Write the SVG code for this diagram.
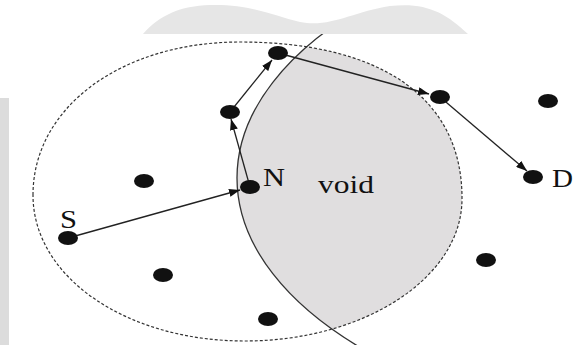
<svg xmlns="http://www.w3.org/2000/svg" width="584" height="345" viewBox="0 0 584 345">
<style>
.node{fill:#111}
.lbl{font-family:"Liberation Serif","Times New Roman",serif;font-size:25px;fill:#111}
.edge{stroke:#222;stroke-width:1.3;fill:none;marker-end:url(#ah)}
</style>
<defs>
<marker id="ah" markerUnits="userSpaceOnUse" markerWidth="12" markerHeight="8" refX="11" refY="4" orient="auto">
<path d="M0,0 L11,4 L0,8 Z" fill="#111"/>
</marker>
<clipPath id="range"><path d="M33,195 C33,107 122,42 240,42 C378,42 463,96 462,200 C461,278 364,341 245,341 C126,341 33,277 33,195 Z"/></clipPath>
</defs>
<rect width="584" height="345" fill="#fff"/>
<g id="void-area">
<ellipse cx="747" cy="178" rx="510" ry="260" fill="#e0dedf" clip-path="url(#range)"/>
</g>
<g id="range-circle">
<path d="M33,195 C33,107 122,42 240,42 C378,42 463,96 462,200 C461,278 364,341 245,341 C126,341 33,277 33,195 Z" fill="none" stroke="#333" stroke-width="1.2" stroke-dasharray="3 2"/>
</g>
<g id="void-boundary">
<ellipse cx="747" cy="178" rx="510" ry="260" fill="none" stroke="#333" stroke-width="1.3"/>
</g>
<g id="connectors">
<line class="edge" x1="68" y1="238" x2="240" y2="190"/>
<line class="edge" x1="250" y1="187" x2="231" y2="119"/>
<line class="edge" x1="230" y1="112" x2="272" y2="60"/>
<line class="edge" x1="278" y1="53" x2="429" y2="94"/>
<line class="edge" x1="440" y1="97" x2="527" y2="171"/>
</g>
<g id="node-S"><ellipse class="node" cx="68" cy="238" rx="10" ry="7"/><text class="lbl" x="60" y="228" textLength="17" lengthAdjust="spacingAndGlyphs">S</text></g>
<g id="node-N"><ellipse class="node" cx="250" cy="187" rx="10" ry="7"/><text class="lbl" x="263" y="186" textLength="22" lengthAdjust="spacingAndGlyphs">N</text></g>
<g id="node-D"><ellipse class="node" cx="533" cy="177" rx="10" ry="7"/><text class="lbl" x="552" y="187" textLength="21" lengthAdjust="spacingAndGlyphs">D</text></g>
<g id="node-a"><ellipse class="node" cx="230" cy="112" rx="10" ry="7"/></g>
<g id="node-b"><ellipse class="node" cx="278" cy="53" rx="10" ry="7"/></g>
<g id="node-c"><ellipse class="node" cx="440" cy="97" rx="10" ry="7"/></g>
<g id="node-d"><ellipse class="node" cx="548" cy="101" rx="10" ry="7"/></g>
<g id="node-e"><ellipse class="node" cx="144" cy="181" rx="10" ry="7"/></g>
<g id="node-f"><ellipse class="node" cx="163" cy="275" rx="10" ry="7"/></g>
<g id="node-g"><ellipse class="node" cx="268" cy="319" rx="10" ry="7"/></g>
<g id="node-h"><ellipse class="node" cx="486" cy="260" rx="10" ry="7"/></g>
<text class="lbl" x="318" y="193" textLength="56" lengthAdjust="spacingAndGlyphs">void</text>
<g id="backdrop">
<rect x="0" y="0" width="584" height="34" fill="#fff"/>
<path d="M143,34 C160,15 180,6 210,5 C250,4 272,15 300,22 C330,28 352,12 390,6 C425,2 445,12 468,34 Z" fill="#e6e6e6"/>
<rect x="0" y="98" width="9" height="247" fill="#dcdcdc"/>
</g>
</svg>
